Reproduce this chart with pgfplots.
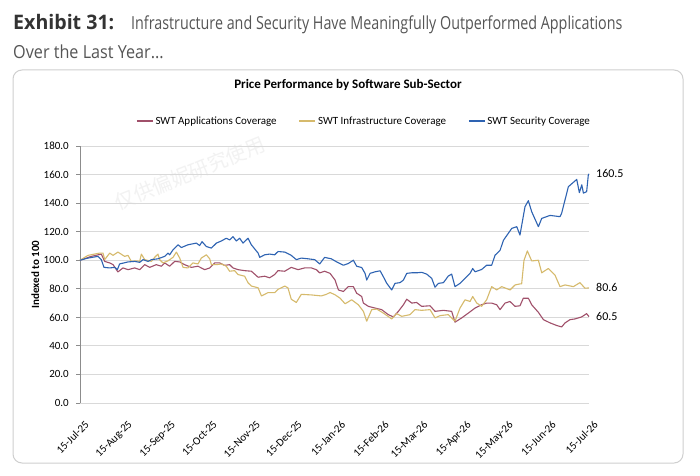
\documentclass[border=0pt]{standalone}
\usepackage{pgfplots}
\pgfplotsset{compat=1.18}
\usepackage{fontspec}
\setmainfont{Carlito}
\newfontfamily\titlefont{Open Sans}
\newfontfamily\cjk{Noto Sans CJK SC}
\definecolor{appred}{HTML}{A0506A}
\definecolor{infyel}{HTML}{D6BA6C}
\definecolor{secblue}{HTML}{2E63B2}
\definecolor{gridgray}{HTML}{D9D9D9}
\definecolor{axisgray}{HTML}{8C8C8C}
\definecolor{boxgray}{HTML}{CFCFCF}
\definecolor{titledark}{HTML}{333333}
\definecolor{titlegray}{HTML}{555555}
\begin{document}
\begin{tikzpicture}
\useasboundingbox (0pt,0pt) rectangle (700pt,475pt);
\fill[white] (0pt,0pt) rectangle (700pt,475pt);
% header
\node[anchor=base west, inner sep=0pt, font=\titlefont\fontsize{20}{22}\selectfont, text=titledark] at (13pt,445pt)
  {\scalebox{0.98}[1]{\bfseries Exhibit 31:}};
\node[anchor=base west, inner sep=0pt, font=\titlefont\fontsize{18}{22}\selectfont, text=titlegray] at (131pt,445pt)
  {\scalebox{0.795}[1]{Infrastructure and Security Have Meaningfully Outperformed Applications}};
\node[anchor=base west, inner sep=0pt, font=\titlefont\fontsize{18}{22}\selectfont, text=titlegray] at (13pt,417pt)
  {\scalebox{0.9}[1]{Over the Last Year...}};
% box
\draw[boxgray, line width=1pt, rounded corners=9pt] (13pt,12pt) rectangle (683pt,405pt);
% watermark
\node[rotate=22, text=black!5, font=\cjk\fontsize{20}{20}\selectfont] at (190pt,302pt) {仅供偏妮研究使用};
\node[font=\bfseries\fontsize{13}{15}\selectfont] at (348pt,390pt) {Price Performance by Software Sub-Sector};
\begin{axis}[
  at={(80pt,72pt)}, anchor=south west,
  scale only axis, width=509pt, height=257pt,
  xmin=0, xmax=365, ymin=0, ymax=180,
  clip=false,
  axis x line*=bottom, axis y line*=left,
  x axis line style={draw=gridgray, line width=0.8pt, -},
  y axis line style={draw=axisgray, line width=0.8pt, -},
  ytick={0,20,...,180},
  yticklabel style={/pgf/number format/fixed, /pgf/number format/fixed zerofill, /pgf/number format/precision=1, font=\fontsize{11}{13}\selectfont, inner sep=0pt, xshift=-7pt},
  /pgf/number format/assume math mode=true,
  ytick style={draw=axisgray, line width=0.8pt},
  tick align=outside,
  major tick length=4pt,
  xtick={0,31,62,92,123,153,184,215,243,274,304,335,365},
  xticklabels={15-Jul-25,15-Aug-25,15-Sep-25,15-Oct-25,15-Nov-25,15-Dec-25,15-Jan-26,15-Feb-26,15-Mar-26,15-Apr-26,15-May-26,15-Jun-26,15-Jul-26},
  xtick style={draw=none},
  xticklabel style={rotate=45, anchor=north east, inner sep=0pt, font=\fontsize{11}{13}\selectfont, xshift=-6pt, yshift=-12pt},
  ymajorgrids, grid style={draw=gridgray, line width=0.8pt},
  ylabel={Indexed to 100},
  ylabel style={at={(axis description cs:-0.088,0.5)}, anchor=center, font=\bfseries\fontsize{11}{13}\selectfont},
  legend columns=3,
  legend style={at={(axis description cs:0.558,1.097)}, anchor=center, draw=none, fill=none, font=\fontsize{11}{13}\selectfont, /tikz/every even column/.append style={column sep=20pt}},
  legend image code/.code={\draw[#1, line width=1.4pt] (0pt,0pt) -- (16pt,0pt);},
  every axis plot/.append style={line width=1.1pt, line join=round},
]
\addplot[appred] coordinates {
(0,100) (8.1,102.7) (15.3,104.3) (17.7,99.2) (21.3,98.1) (23.7,96.9) (27.2,91.8) (30.8,94.6) (34.4,93.4) (39.2,94.6) (42.8,93.4) (46.4,96.9) (50,95) (54.7,96.9) (58.3,95.8) (60.7,98.1) (64.3,95.8) (67.9,99.2) (71.5,98.8) (75,96.9) (79.8,95) (84.6,95.8) (89.4,93.4) (93,94.6) (96.6,98.1) (100.2,98.1) (103.7,96.4) (107.3,96.9) (109.7,94.6) (113.3,93.4) (118.1,92.7) (122.9,92.3) (127.7,88.1) (132.4,88.8) (136,87.7) (139.6,90) (142,92.7) (146.8,92.3) (151.5,95) (156.3,93.4) (161.1,94.6) (165.9,94.6) (169.5,93.4) (171.9,91.1) (175.4,92.3) (179.3,90.8) (182.9,86.1) (185.3,79.2) (188.9,78.1) (192.4,81.5) (196,81.5) (198.4,76.9) (202,74.6) (203.2,70) (206.8,67.7) (211.6,66.5) (216.3,65.4) (221.1,61.9) (224.7,60.3) (228.3,64.2) (231.9,68.8) (234.3,72.7) (237.9,70) (241.4,70.4) (245,67.7) (251,68.1) (254.6,64.2) (260.6,64.9) (266.5,64.2) (268.9,56.6) (273.7,59.6) (278.5,63) (283.3,66.5) (288,68.8) (291.6,70) (295.2,70) (298.8,68.8) (301.2,65.4) (304.8,70) (308.3,71.1) (312,67.7) (315.5,68.1) (317.9,73.4) (321.5,73.4) (323.9,68.8) (328.7,63.5) (332.3,58.4) (337.1,56.1) (341.8,54.3) (345.4,53.3) (347.8,56.1) (351.4,58.4) (355,58.9) (359.7,60.3) (363.3,62.6) (365,60.5)
};
\addlegendentry{SWT Applications Coverage}
\addplot[infyel] coordinates {
(0,100) (5.7,103.4) (14.1,105) (16.5,105) (17.7,100.4) (21.3,105) (23.7,103.4) (27.2,105.7) (32,102.7) (34.4,103.4) (36.8,99.2) (40.4,99.6) (42.8,99.2) (44,104.3) (46.4,100.4) (51.2,99.2) (53.5,102) (55.9,104.3) (57.1,100.4) (59.5,98.1) (63.1,99.6) (66.7,102) (69.1,105.7) (71.5,101.5) (73.9,95) (77.4,94.6) (81,98.1) (84.6,97.4) (87,101.5) (90.6,103.8) (93,101) (94.2,96.9) (97.8,96.9) (101.4,97.4) (104.9,95.8) (107.3,92.3) (110.9,92.7) (113.3,90) (118.1,88.8) (120.5,84.2) (122.9,81.9) (127.7,80.7) (130.1,75) (134.8,77.3) (139.6,77.3) (142,79.6) (146.8,81.9) (149.1,80.7) (151.5,72.7) (155.1,70.4) (158.7,76.1) (165.9,75.7) (173.1,75) (176.6,76.1) (179.3,77.4) (182.9,75.8) (186.5,73.4) (190.1,69.5) (194.8,72.3) (199.6,68.8) (203.2,64.2) (205.6,57.3) (209.2,65.4) (212.8,65.8) (217.5,63) (223.5,58.9) (227.1,62.6) (230.7,60.7) (236.7,61.9) (240.2,65.4) (245,64.9) (251,65.4) (254.6,59.6) (258.2,61.2) (264.1,61.9) (268.9,57.3) (272.5,66.5) (276.1,72.3) (279.7,71.1) (281.6,74.6) (284.5,70) (288,67.7) (291.6,72.3) (295.2,81.5) (298.8,79.2) (302.4,81.5) (308.4,79.2) (312,82.7) (315.5,83.4) (316.7,83.4) (318.4,100) (320.8,106.5) (323.9,99.5) (328.7,100) (331.1,91.2) (335.8,94.2) (340.6,89.6) (344.2,81.5) (347.8,82.7) (353.8,81.5) (358.5,84.3) (362.1,80.4) (365,80.6)
};
\addlegendentry{SWT Infrastructure Coverage}
\addplot[secblue] coordinates {
(0,100) (5.7,101.5) (12.9,102.7) (15.3,100.4) (17.2,95) (21.3,94.6) (24.9,95) (26.8,93.4) (28.4,97.4) (34.4,98.8) (39.2,99.2) (42.8,98.5) (45.2,100.4) (48.8,99.2) (51.2,100.4) (55.9,101) (60.7,102.7) (63.1,105) (64.3,103.8) (66.7,107.3) (70.3,110.8) (72.7,108.9) (77.4,110.8) (83.4,112) (85.8,110.3) (87.5,113) (90.6,109.6) (94.2,108.5) (97.8,112) (101.4,113.5) (104.9,115.4) (107.3,114.2) (109.7,116.5) (112.1,113.5) (114.5,115.4) (116.9,112) (120.5,115.4) (122.9,110.8) (127.7,105) (128.9,102) (132.4,103.8) (136,104.3) (139.6,103.8) (142,106.1) (146.8,105.7) (151.5,103.4) (155.1,100.4) (158.7,101.5) (163.5,101) (168.3,100.4) (171.9,97.4) (175.4,102) (180.2,101) (184.1,98.8) (188.9,96.5) (192.4,97.7) (196,100) (198.4,95.8) (202,94.9) (204.4,90.8) (205.6,86.1) (208,90.8) (211.6,91.9) (215.2,92.6) (217.5,88.5) (220,83.8) (223.5,79.2) (225.9,83.8) (229.5,84.3) (231.9,86.1) (234.3,90.8) (237.9,91.2) (241.4,91.2) (245,91.5) (248.6,90.3) (252.2,87.3) (254.6,81.1) (257,83.8) (260.6,84.3) (264.1,88.9) (266.5,90.3) (268.9,81.5) (272.5,83.8) (276.1,87.3) (279.7,90.8) (281.6,94.2) (283.3,91.9) (288,93.5) (291.6,96.5) (295.2,96.5) (297.6,103.5) (301.2,106.9) (303.6,113.9) (309.6,122.3) (313.2,123.5) (315.5,117.6) (319.1,137.5) (321.5,141.7) (323.9,134) (328.7,123.5) (331.1,129.3) (337.1,131.4) (344.2,130.5) (345.4,133) (350.2,151.5) (356.2,156.6) (358.1,147.3) (359.8,152.8) (361,147) (363.3,148) (364.5,159.7) (365,160.5)
};
\addlegendentry{SWT Security Coverage}
\node[anchor=west, inner sep=0pt, font=\fontsize{12}{14}\selectfont] at (axis cs:365,160.5) [xshift=7pt] {160.5};
\node[anchor=west, inner sep=0pt, font=\fontsize{12}{14}\selectfont] at (axis cs:365,80.6) [xshift=7pt] {80.6};
\node[anchor=west, inner sep=0pt, font=\fontsize{12}{14}\selectfont] at (axis cs:365,60.5) [xshift=7pt] {60.5};
\end{axis}
\end{tikzpicture}
\end{document}
